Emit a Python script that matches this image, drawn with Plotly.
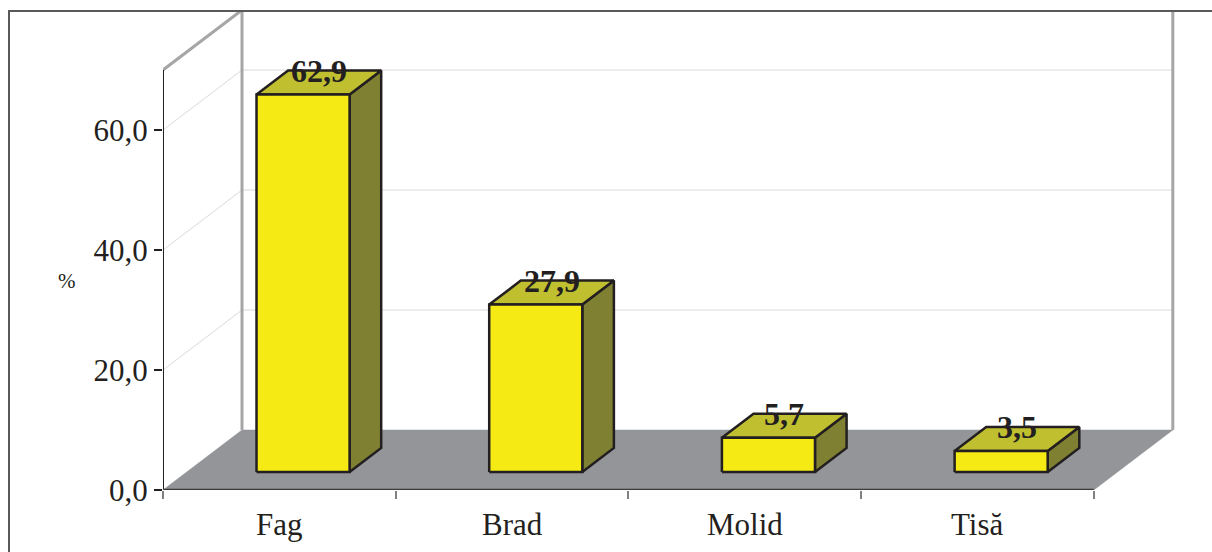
import plotly.graph_objects as go

# Species share of the stand (%)
species = ["Fag", "Brad", "Molid", "Tisă"]
share_pct = [62.9, 27.9, 5.7, 3.5]
y_ticks = [0, 20, 40, 60]
y_tick_text = ["0,0", "20,0", "40,0", "60,0"]
y_max = 70

# Canvas and plot-area geometry (pixels)
W, H = 1212, 552
M_L, M_R, M_T, M_B = 163, 12, 10, 62
PLOT_W = W - M_L - M_R
PLOT_H = H - M_T - M_B
PX_PER_CAT = 232.7

# Pseudo-3D depth: full depth shifts right (in category units) and up (in value units)
DEPTH_X = 79 / PX_PER_CAT
DEPTH_Y = 10.0
X0 = -0.5
X1 = X0 + PLOT_W / PX_PER_CAT
Y_TOP = y_max + DEPTH_Y

BAR_HALF = 0.2
BAR_D0, BAR_D1 = 0.3, 0.7

FONT = "Liberation Serif, Times New Roman, serif"
TEXT = "#231F20"
FRONT = "#F5EA14"
TOP = "#C0BF30"
SIDE = "#7F8032"
FLOOR = "#939598"
WALL_EDGE = "#A6A6A6"
GRID = "#D9D9D9"
AXIS_FONT = 31
LABEL_FONT = 32


def proj(c, d, v):
    return c + d * DEPTH_X, v + d * DEPTH_Y


def shape_trace(points, fill=None, color="#000", width=1.0, closed=False):
    xs = [p[0] for p in points]
    ys = [p[1] for p in points]
    if closed:
        xs.append(xs[0])
        ys.append(ys[0])
    kw = dict(x=xs, y=ys, mode="lines", hoverinfo="skip", showlegend=False,
              line=dict(color=color, width=width))
    if fill is not None:
        kw["fill"] = "toself"
        kw["fillcolor"] = fill
    return go.Scatter(**kw)


fig = go.Figure()
left, right = -0.5, len(species) - 0.5

# Floor
fig.add_trace(shape_trace([proj(left, 0, 0), proj(right, 0, 0), proj(right, 1, 0), proj(left, 1, 0)],
                          fill=FLOOR, color=FLOOR, width=0.5, closed=True))

# Gridlines on back and side walls
for t in y_ticks[1:]:
    fig.add_trace(shape_trace([proj(left, 1, t), proj(right, 1, t)], color=GRID, width=1))
    fig.add_trace(shape_trace([proj(left, 0, t), proj(left, 1, t)], color=GRID, width=1))

# Wall edges
fig.add_trace(shape_trace([proj(left, 1, 0), proj(left, 1, y_max)], color=WALL_EDGE, width=3))
fig.add_trace(shape_trace([proj(right, 1, 0), proj(right, 1, y_max)], color=WALL_EDGE, width=3))
fig.add_trace(shape_trace([proj(left, 1, y_max), proj(right, 1, y_max)], color=WALL_EDGE, width=3))
fig.add_trace(shape_trace([proj(left, 0, y_max), proj(left, 1, y_max)], color=WALL_EDGE, width=3))

# Front edges of side wall and floor
fig.add_trace(shape_trace([proj(left, 0, 0), proj(left, 0, y_max)], color=TEXT, width=2))
fig.add_trace(shape_trace([proj(left, 0, 0), proj(right, 0, 0)], color="#3A3A3A", width=2.5))

# 3D bars
annotations = []
for i, (name, v) in enumerate(zip(species, share_pct)):
    a, b = i - BAR_HALF, i + BAR_HALF
    front = [proj(a, BAR_D0, 0), proj(b, BAR_D0, 0), proj(b, BAR_D0, v), proj(a, BAR_D0, v)]
    top = [proj(a, BAR_D0, v), proj(b, BAR_D0, v), proj(b, BAR_D1, v), proj(a, BAR_D1, v)]
    side = [proj(b, BAR_D0, 0), proj(b, BAR_D1, 0), proj(b, BAR_D1, v), proj(b, BAR_D0, v)]
    for pts, col in ((side, SIDE), (top, TOP), (front, FRONT)):
        fig.add_trace(shape_trace(pts, fill=col, color=TEXT, width=2.5, closed=True))
    lx, _ = proj(i, (BAR_D0 + BAR_D1) / 2, v)
    ly = v + BAR_D1 * DEPTH_Y
    annotations.append(dict(x=lx, y=ly, xref="x", yref="y", showarrow=False,
                            text="<b>" + f"{v:.1f}".replace(".", ",") + "</b>",
                            font=dict(family=FONT, size=LABEL_FONT, color=TEXT),
                            xanchor="center", yanchor="middle"))
    annotations.append(dict(x=i, y=-34 / PLOT_H, xref="x", yref="paper",
                            showarrow=False, text=name,
                            font=dict(family=FONT, size=AXIS_FONT, color=TEXT),
                            xanchor="center", yanchor="middle"))

annotations.append(dict(x=(67 - M_L) / PLOT_W, y=((H - M_B) - 281) / PLOT_H, xref="paper", yref="paper",
                        showarrow=False, text="%", font=dict(family=FONT, size=21, color=TEXT),
                        xanchor="center", yanchor="middle"))

fig.update_layout(
    width=W, height=H,
    margin=dict(l=M_L, r=M_R, t=M_T, b=M_B, pad=0),
    paper_bgcolor="white", plot_bgcolor="white",
    annotations=annotations,
    xaxis=dict(range=[X0, X1], showgrid=False, zeroline=False, showline=False,
               tickvals=[k - 0.5 for k in range(len(species) + 1)], ticks="outside",
               ticklen=8, tickwidth=1.5, tickcolor="#808080", showticklabels=False, fixedrange=True),
    yaxis=dict(range=[0, Y_TOP], showgrid=False, zeroline=False, showline=False,
               tickvals=y_ticks, ticktext=y_tick_text, ticks="outside", ticklen=8,
               tickwidth=1.5, tickcolor=TEXT, tickfont=dict(family=FONT, size=AXIS_FONT, color=TEXT),
               fixedrange=True),
    shapes=[dict(type="rect", xref="paper", yref="paper",
                 x0=(9 - M_L) / PLOT_W, x1=(W + 5 - M_L) / PLOT_W,
                 y0=((H - M_B) - (H + 5)) / PLOT_H, y1=((H - M_B) - 11) / PLOT_H,
                 line=dict(color="#595959", width=2), layer="above")],
)

fig.write_html("out.html")
